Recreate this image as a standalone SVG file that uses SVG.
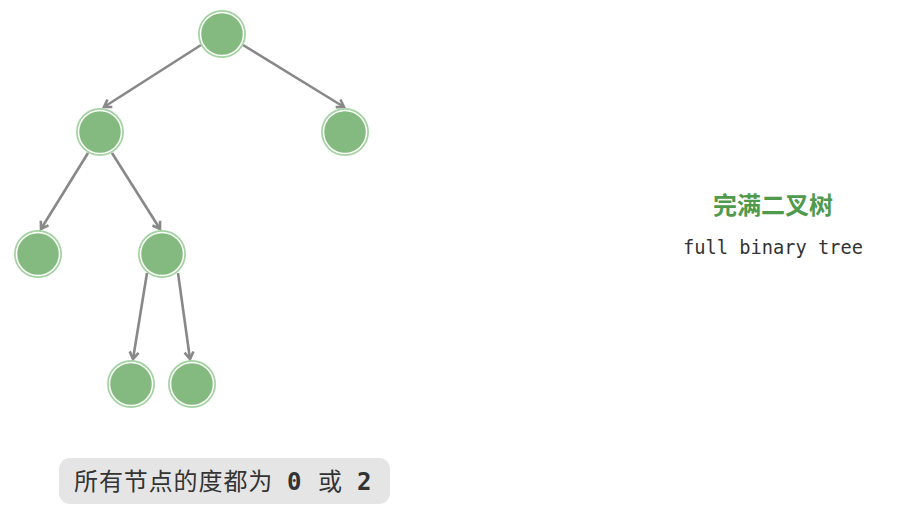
<svg xmlns="http://www.w3.org/2000/svg" width="898" height="510" viewBox="0 0 898 510">
<style>
.ring{fill:#a3d3a0}
.core{fill:#84ba80;stroke:#ffffff;stroke-width:1.5}
.edge{stroke:#888888;stroke-width:2.6;fill:none;marker-end:url(#arr)}
.cap{font-family:"Noto Sans CJK SC","Noto Sans",sans-serif;font-size:24px;fill:#333333}
.num{font-family:"DejaVu Sans Mono","Liberation Mono",monospace;font-weight:bold}
.title{font-family:"Noto Sans CJK SC","Noto Sans",sans-serif;font-size:24px;font-weight:bold;fill:#4f9a4c}
.sub{font-family:"DejaVu Sans Mono","Liberation Mono",monospace;font-size:18.7px;fill:#333333}
</style>
<defs>
<marker id="arr" markerWidth="12" markerHeight="12" refX="9" refY="6" orient="auto" markerUnits="userSpaceOnUse">
<path d="M2,1.5 L9,6 L2,10.5" fill="none" stroke="#888888" stroke-width="2.6" stroke-linejoin="miter"/>
</marker>
</defs>
<g id="edges">
<line class="edge" x1="201" y1="45" x2="104" y2="107"/>
<line class="edge" x1="243" y1="45" x2="344" y2="107"/>
<line class="edge" x1="88" y1="153" x2="41" y2="229"/>
<line class="edge" x1="112" y1="153" x2="160" y2="229"/>
<line class="edge" x1="147" y1="273" x2="133" y2="359"/>
<line class="edge" x1="178" y1="273" x2="190" y2="359"/>
</g>
<g id="n0"><circle class="ring" cx="222" cy="34" r="24"/><circle class="core" cx="222" cy="34" r="21.5"/></g>
<g id="n1"><circle class="ring" cx="100" cy="132" r="24"/><circle class="core" cx="100" cy="132" r="21.5"/></g>
<g id="n2"><circle class="ring" cx="345" cy="132" r="24"/><circle class="core" cx="345" cy="132" r="21.5"/></g>
<g id="n3"><circle class="ring" cx="38" cy="254" r="24"/><circle class="core" cx="38" cy="254" r="21.5"/></g>
<g id="n4"><circle class="ring" cx="162" cy="254" r="24"/><circle class="core" cx="162" cy="254" r="21.5"/></g>
<g id="n5"><circle class="ring" cx="131" cy="384" r="24"/><circle class="core" cx="131" cy="384" r="21.5"/></g>
<g id="n6"><circle class="ring" cx="192" cy="384" r="24"/><circle class="core" cx="192" cy="384" r="21.5"/></g>
<g id="caption">
<rect x="59" y="458" width="331" height="46" rx="11" fill="#e5e5e5"/>
<text class="cap" x="74" y="490"><tspan letter-spacing="0.9">所有节点的度都为</tspan><tspan class="num" x="287">0</tspan><tspan x="318">或</tspan><tspan class="num" x="357">2</tspan></text>
</g>
<g id="label">
<text class="title" x="773" y="214" text-anchor="middle">完满二叉树</text>
<text class="sub" x="773" y="254" text-anchor="middle">full binary tree</text>
</g>
</svg>
